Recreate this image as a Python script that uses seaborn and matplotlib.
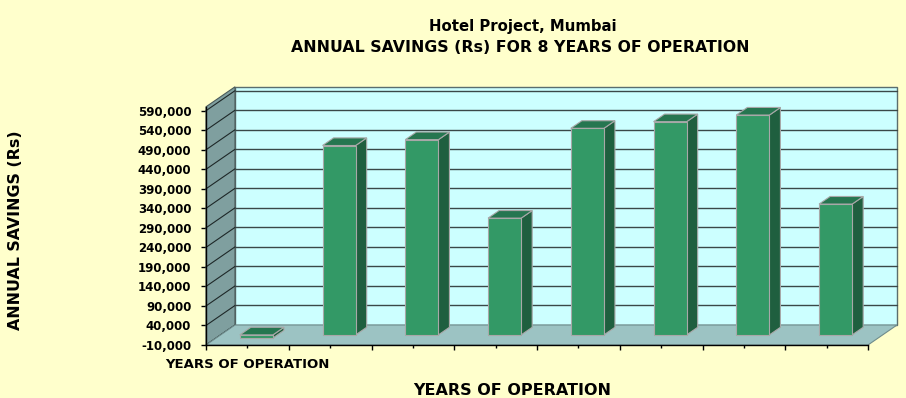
import numpy as np
import pandas as pd
import matplotlib
matplotlib.use("Agg")
import matplotlib.pyplot as plt
import matplotlib.transforms as mtransforms
from matplotlib.patches import Polygon
from matplotlib.lines import Line2D
import seaborn as sns

# ---------------- data ----------------
years = ["1", "2", "3", "4", "5", "6", "7", "8"]
savings = [-8000, 485000, 500000, 299000, 529000, 546000, 563000, 335000]
x_tick_labels = ["YEARS OF OPERATION", "", "", "", "", "", "", ""]
y_ticks = [-10000, 40000, 90000, 140000, 190000, 240000, 290000,
           340000, 390000, 440000, 490000, 540000, 590000]
y_limits = (-10000, 600000)
title_line1 = "Hotel Project, Mumbai"
title_line2 = "ANNUAL SAVINGS (Rs) FOR 8 YEARS OF OPERATION"
x_label = "YEARS OF OPERATION"
y_label = "ANNUAL SAVINGS (Rs)"

# ---------------- style ----------------
sns.set_theme(style="white")
plt.rcParams['font.family'] = ['DejaVu Sans']
plt.rcParams['font.weight'] = 'bold'

BG = "#FFFFCC"
WALL = "#CCFFFF"
SIDE = "#7F9F9F"
FLOOR = "#9CC3C3"
GRID = "#3A4848"
BAR_FRONT = "#339966"
BAR_TOP = "#267650"
BAR_SIDE = "#1F5F3F"
BAR_EDGE = "#A8A8A8"

W, H = 906, 398
fig = plt.figure(figsize=(W / 100, H / 100), dpi=100, facecolor=BG)
ax = fig.add_axes([206 / W, 53 / H, 662 / W, 238.2 / H])
ax.patch.set_visible(False)

df = pd.DataFrame({"year": years, "savings": savings})
sns.barplot(data=df, x="year", y="savings", color=BAR_FRONT, saturation=1,
            width=0.4, ax=ax, zorder=5, edgecolor=BAR_EDGE, linewidth=0.8,
            errorbar=None)
bars = list(ax.patches)

ax.set_xlim(-0.5, 7.5)
ax.set_ylim(*y_limits)
ax.set_autoscale_on(False)

# 3D depth vector in pixels
D = np.array([29.0, 20.0])
f0, f1 = 0.31, 0.69
ident = mtransforms.IdentityTransform()


def P(x, y, d):
    return ax.transData.transform((x, y)) + d * D


x0, x1 = ax.get_xlim()
y0, y1 = ax.get_ylim()

# back wall
ax.add_patch(Polygon([P(x0, y0, 1), P(x1, y0, 1), P(x1, y1, 1), P(x0, y1, 1)],
                     closed=True, facecolor=WALL, edgecolor="#5A6E6E", lw=1,
                     transform=ident, clip_on=False, zorder=0.5))
# side wall
ax.add_patch(Polygon([P(x0, y0, 0), P(x0, y1, 0), P(x0, y1, 1), P(x0, y0, 1)],
                     closed=True, facecolor=SIDE, edgecolor="#4A5A5A", lw=0.8,
                     transform=ident, clip_on=False, zorder=0.6))
# floor
ax.add_patch(Polygon([P(x0, y0, 0), P(x1, y0, 0), P(x1, y0, 1), P(x0, y0, 1)],
                     closed=True, facecolor=FLOOR, edgecolor="#6F8C8C", lw=0.8,
                     transform=ident, clip_on=False, zorder=0.7))

# gridlines on back wall and side wall
for v in y_ticks[1:]:
    a, b = P(x0, v, 1), P(x1, v, 1)
    ax.add_line(Line2D([a[0], b[0]], [a[1], b[1]], color=GRID, lw=1.0,
                       transform=ident, clip_on=False, zorder=0.55))
for v in y_ticks:
    a, b = P(x0, v, 0), P(x0, v, 1)
    ax.add_line(Line2D([a[0], b[0]], [a[1], b[1]], color="#1E2828", lw=0.8,
                       transform=ident, clip_on=False, zorder=0.65))

# bars: shift front faces into depth, add side and top faces
front_tr = mtransforms.offset_copy(ax.transData, fig=fig, x=f0 * D[0],
                                   y=f0 * D[1], units='dots')
for bar in bars:
    bar.set_transform(front_tr)
    bx, by, bw, bh = bar.get_x(), bar.get_y(), bar.get_width(), bar.get_height()
    top, bot = max(by, by + bh), min(by, by + bh)
    xl, xr = bx, bx + bw
    ax.add_patch(Polygon([P(xr, bot, f0), P(xr, top, f0), P(xr, top, f1), P(xr, bot, f1)],
                         closed=True, facecolor=BAR_SIDE, edgecolor=BAR_EDGE, lw=0.8,
                         transform=ident, clip_on=False, zorder=4))
    ax.add_patch(Polygon([P(xl, top, f0), P(xr, top, f0), P(xr, top, f1), P(xl, top, f1)],
                         closed=True, facecolor=BAR_TOP, edgecolor=BAR_EDGE, lw=0.8,
                         transform=ident, clip_on=False, zorder=4))

# axes, ticks
for s in ["top", "right"]:
    ax.spines[s].set_visible(False)
for s in ["left", "bottom"]:
    ax.spines[s].set_color("black")
    ax.spines[s].set_linewidth(1)
    ax.spines[s].set_zorder(6)

ax.set_yticks(y_ticks)
ax.set_yticklabels([f"{v:,}" for v in y_ticks])
ax.set_xticks(range(len(years)))
ax.set_xticklabels(x_tick_labels)
ax.set_xticks(np.arange(x0, x1 + 0.01, 1.0), minor=True)
ax.tick_params(axis='y', which='major', left=True, direction='out', length=3.6,
               width=1, pad=7, labelsize=8.5, colors='black')
ax.tick_params(axis='x', which='major', bottom=True, direction='out', length=2.2,
               width=1, pad=7, labelsize=9.5, colors='black')
ax.tick_params(axis='x', which='minor', bottom=True, direction='out', length=3.6,
               width=1, colors='black')
for lbl in ax.get_xticklabels() + ax.get_yticklabels():
    lbl.set_fontweight('bold')
ax.set_xlabel("")
ax.set_ylabel("")

# texts
fig.text(522.5 / W, 1 - 30.7 / H, title_line1, ha='center', va='baseline',
         fontsize=10.7, fontweight='bold', color='black')
fig.text(520 / W, 1 - 51.7 / H, title_line2, ha='center', va='baseline',
         fontsize=11.3, fontweight='bold', color='black')
fig.text(512 / W, 1 - 395 / H, x_label, ha='center', va='baseline',
         fontsize=11.5, fontweight='bold', color='black')
fig.text(16 / W, 1 - 230 / H, y_label, ha='center', va='center', rotation=90,
         fontsize=11.4, fontweight='bold', color='black')

fig.savefig("out.png", dpi=100, facecolor=BG)
